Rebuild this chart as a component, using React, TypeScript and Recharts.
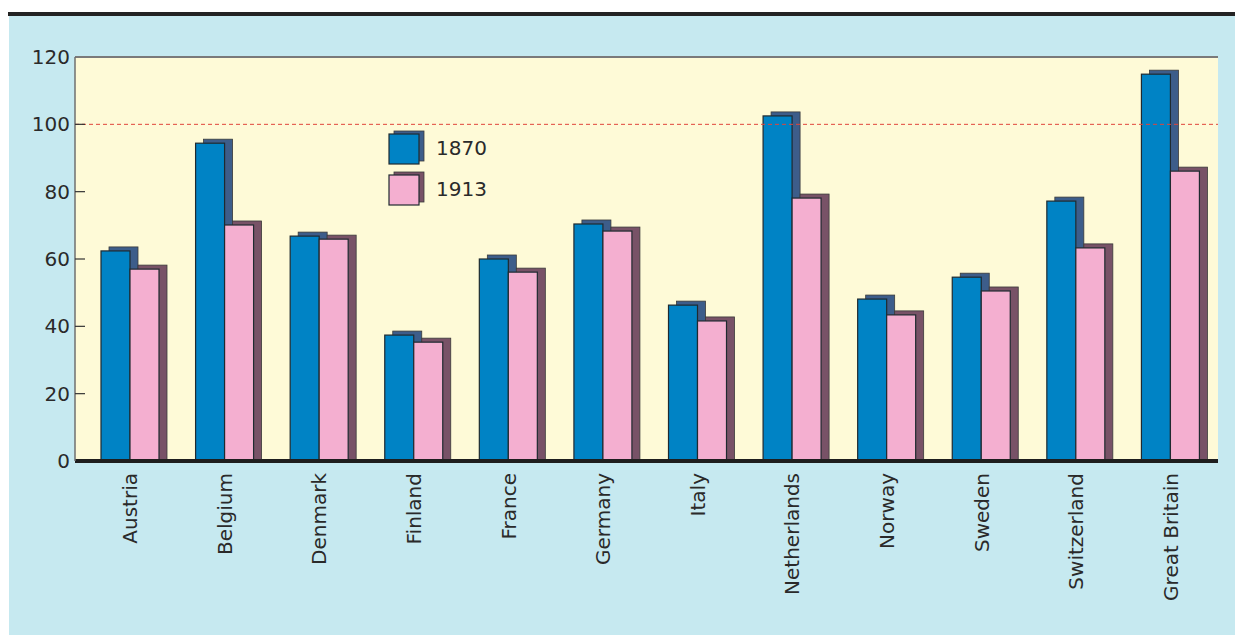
import React from "react";
import { BarChart, Bar, XAxis, YAxis, CartesianGrid, ReferenceLine, Legend } from "recharts";

const countries = ["Austria", "Belgium", "Denmark", "Finland", "France", "Germany", "Italy", "Netherlands", "Norway", "Sweden", "Switzerland", "Great Britain"];
const values1870 = [62.4, 94.4, 66.8, 37.4, 60.0, 70.4, 46.3, 102.5, 48.1, 54.6, 77.2, 114.9];
const values1913 = [57.0, 70.1, 65.9, 35.3, 56.1, 68.3, 41.6, 78.1, 43.4, 50.5, 63.3, 86.1];
const yTicks = [0, 20, 40, 60, 80, 100, 120];

const data = countries.map((c, i) => ({ country: c, y1870: values1870[i], y1913: values1913[i] }));

const FONT = "'DejaVu Sans', sans-serif";
const BLUE = "#0083c5";
const BLUE_SH = "#3d5d8a";
const PINK = "#f4afd0";
const PINK_SH = "#785267";

const makeShape = (fill: string, shadow: string) => (props: any) => {
  const { x, y, width, height } = props;
  if (width == null || height == null) return null;
  return (
    <g>
      <rect x={x + 8} y={y - 4} width={width} height={height + 4} fill={shadow} stroke="#3a3a3a" strokeWidth={0.8} />
      <rect x={x} y={y} width={width} height={height} fill={fill} stroke="#1f2a30" strokeWidth={1.2} />
    </g>
  );
};

const YTick = (props: any) => {
  const { x, y, payload } = props;
  const v = payload.value;
  return (
    <g>
      {v !== 0 && v !== 120 && <line x1={x} x2={x + 10} y1={y} y2={y} stroke="#333" strokeWidth={1.2} />}
      <text x={x - 5} y={y} textAnchor="end" dominantBaseline="central" fontFamily={FONT} fontSize={20} fill="#2a2a2a">
        {v}
      </text>
    </g>
  );
};

const XTick = (props: any) => {
  const { x, y, payload } = props;
  return (
    <text
      x={0}
      y={0}
      transform={`translate(${x},${y + 4}) rotate(-90)`}
      textAnchor="end"
      dominantBaseline="central"
      fontFamily={FONT}
      fontSize={20}
      fill="#2a2a2a"
    >
      {payload.value}
    </text>
  );
};

const LegendContent = () => {
  const items = [
    { label: "1870", fill: BLUE, shadow: BLUE_SH },
    { label: "1913", fill: PINK, shadow: PINK_SH },
  ];
  return (
    <div style={{ fontFamily: FONT }}>
      {items.map((it) => (
        <div key={it.label} style={{ display: "flex", alignItems: "center", height: 41 }}>
          <svg width={40} height={36}>
            <rect x={8} y={1} width={30} height={30} fill={it.shadow} stroke="#3a3a3a" strokeWidth={0.8} />
            <rect x={3} y={4} width={30} height={30} fill={it.fill} stroke="#1f2a30" strokeWidth={1.2} />
          </svg>
          <span style={{ fontSize: 20, color: "#2a2a2a", marginLeft: 10 }}>{it.label}</span>
        </div>
      ))}
    </div>
  );
};

export default function App() {
  return (
    <div style={{ position: "relative", width: 1235, height: 627, background: "#fff" }}>
      <div style={{ position: "absolute", top: 4, left: 0, width: 1235, height: 4, background: "#232323" }} />
      <div style={{ position: "absolute", top: 8, left: 1, width: 1234, height: 619, background: "#c6e9f0" }} />
      <div style={{ position: "absolute", top: 0, left: 0 }}>
        <BarChart
          width={1235}
          height={627}
          data={data}
          margin={{ top: 49, right: 25, bottom: 0, left: 0 }}
          barGap={0}
          barSize={29}
        >
          <CartesianGrid horizontal={false} vertical={false} fill="#fefad7" stroke="none" />
          <XAxis
            dataKey="country"
            interval={0}
            padding={{ left: 8, right: 0 }}
            height={174}
            axisLine={{ stroke: "#1e1e1e", strokeWidth: 4 }}
            tickLine={false}
            tick={<XTick />}
          />
          <YAxis
            domain={[0, 120]}
            ticks={yTicks}
            width={67}
            axisLine={{ stroke: "#6f6f6f", strokeWidth: 1.5 }}
            tickLine={false}
            tickSize={0}
            tickMargin={0}
            tick={<YTick />}
          />
          <YAxis yAxisId="right" orientation="right" width={0} domain={[0, 120]} tick={false} tickLine={false} axisLine={{ stroke: "#7a7a7a", strokeWidth: 2 }} />
          <ReferenceLine y={120} stroke="#7a7a7a" strokeWidth={2} />
          <ReferenceLine y={100} stroke="#e0453c" strokeWidth={1} strokeDasharray="4 3" />
          <Legend
            layout="vertical"
            align="center"
            verticalAlign="middle"
            content={<LegendContent />}
            wrapperStyle={{ position: "absolute", left: 378, top: 119, width: 140 }}
          />
          <Bar dataKey="y1870" name="1870" isAnimationActive={false} shape={makeShape(BLUE, BLUE_SH)} />
          <Bar dataKey="y1913" name="1913" isAnimationActive={false} shape={makeShape(PINK, PINK_SH)} />
        </BarChart>
      </div>
    </div>
  );
}
